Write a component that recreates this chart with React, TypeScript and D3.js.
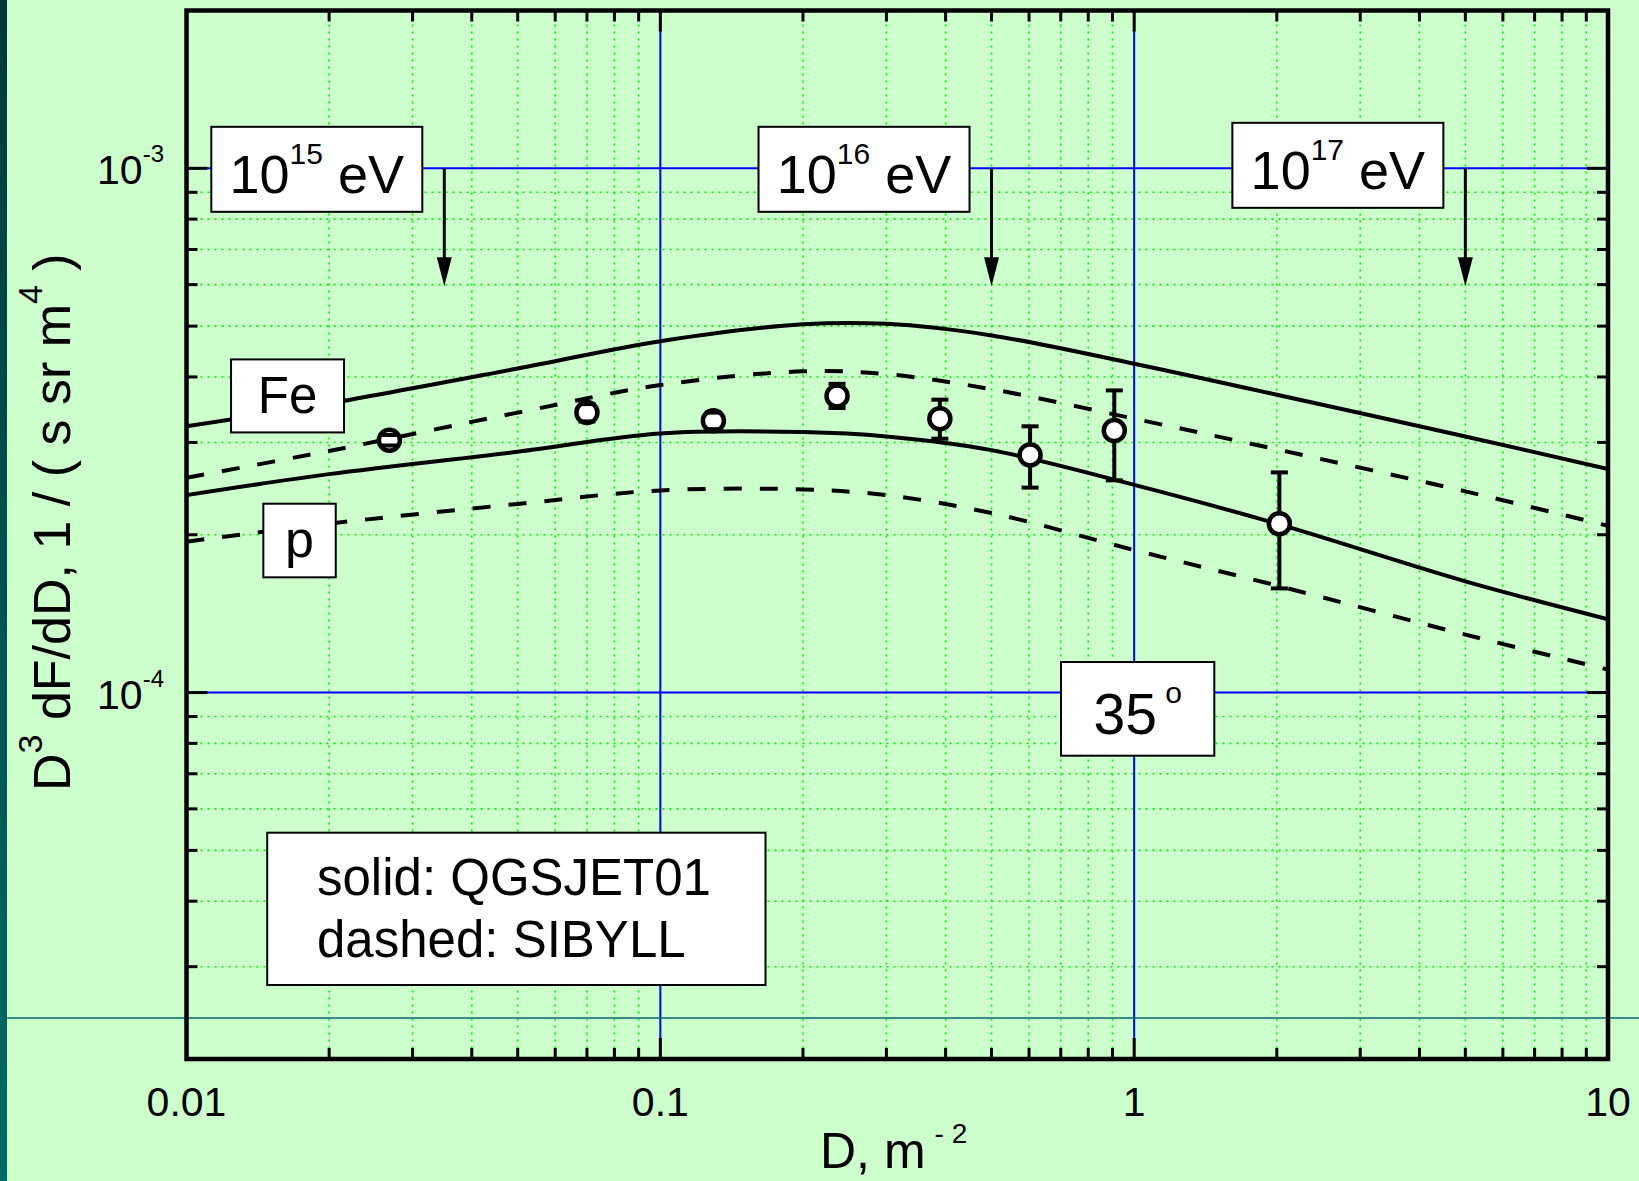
import { useMemo } from "react";
import * as d3 from "d3";

const WIDTH = 1639;
const HEIGHT = 1181;
const PLOT = { left: 186.5, right: 1608, top: 10.5, bottom: 1059 };
const FONT = "'Liberation Sans', Arial, Helvetica, sans-serif";

// model curves: D in m^-2, flux in units of 1e-4 / (s sr m^4)
const dGrid = [0.01, 0.02, 0.05, 0.1, 0.2, 0.3, 0.5, 1, 2, 5, 10];
const feQgsjet = [3.22, 3.56, 4.15, 4.68, 5.04, 5.05, 4.8, 4.24, 3.7, 3.08, 2.67];
const feSibyll = [2.57, 2.89, 3.42, 3.86, 4.1, 4.05, 3.79, 3.33, 2.91, 2.42, 2.08];
const pQgsjet = [2.38, 2.61, 2.88, 3.12, 3.14, 3.08, 2.9, 2.49, 2.1, 1.63, 1.38];
const pSibyll = [1.94, 2.1, 2.29, 2.43, 2.44, 2.38, 2.2, 1.87, 1.6, 1.29, 1.106];

// measured points (same units)
const expD = [0.0268, 0.07, 0.1294, 0.236, 0.389, 0.603, 0.908, 2.025];
const expF = [3.03, 3.42, 3.3, 3.68, 3.33, 2.84, 3.16, 2.1];
const expLo = [2.96, 3.29, 3.18, 3.49, 3.05, 2.46, 2.54, 1.58];
const expHi = [3.1, 3.55, 3.42, 3.88, 3.62, 3.22, 3.77, 2.63];

const energyExp = ["15", "16", "17"];
const energyArrowD = [0.035, 0.5, 5];

const xTickValues = [0.01, 0.1, 1, 10];
const xTickLabels = ["0.01", "0.1", "1", "10"];
const yTickExp = [-4, -3];

const UNIT = 1e-4;

const isDecade = (v: number) => Math.abs(Math.log10(v) - Math.round(Math.log10(v))) < 1e-6;

const App = () => {
  const x = useMemo(() => d3.scaleLog().domain([0.01, 10]).range([PLOT.left, PLOT.right]), []);
  const y = useMemo(() => d3.scaleLog().domain([2e-5, 2e-3]).range([PLOT.bottom, PLOT.top]), []);

  const line = d3
    .line<number>()
    .x((_, i) => x(dGrid[i]))
    .y((v) => y(v * UNIT))
    .curve(d3.curveCatmullRom.alpha(0.5));

  const curves = [
    { values: feQgsjet, dashed: false },
    { values: feSibyll, dashed: true },
    { values: pQgsjet, dashed: false },
    { values: pSibyll, dashed: true },
  ];

  const xTicks = x.ticks().filter((t) => t > 0.0100001 && t < 9.9999);
  const yTicks = y.ticks().filter((t) => t > 2.00001e-5 && t < 1.9999e-3);

  const y3 = y(1e-3);

  return (
    <svg
      width={WIDTH}
      height={HEIGHT}
      style={{ position: "absolute", left: 0, top: 0, display: "block" }}
      fontFamily={FONT}
    >
      <defs>
        <linearGradient id="strip" x1="0" y1="0" x2="0" y2="1">
          <stop offset="0" stopColor="#003a3a" />
          <stop offset="1" stopColor="#006a64" />
        </linearGradient>
        <clipPath id="plotClip">
          <rect x={PLOT.left} y={PLOT.top} width={PLOT.right - PLOT.left} height={PLOT.bottom - PLOT.top} />
        </clipPath>
      </defs>

      <rect width={WIDTH} height={HEIGHT} fill="#ccffcc" />
      <rect width={7} height={HEIGHT} fill="url(#strip)" />

      {/* minor grid */}
      <g stroke="#00ee00" strokeWidth={1.6} strokeDasharray="2 5">
        {xTicks
          .filter((t) => !isDecade(t))
          .map((t) => (
            <line key={"gx" + t} x1={x(t)} x2={x(t)} y1={PLOT.top} y2={PLOT.bottom} />
          ))}
        {yTicks
          .filter((t) => !isDecade(t))
          .map((t) => (
            <line key={"gy" + t} x1={PLOT.left} x2={PLOT.right} y1={y(t)} y2={y(t)} />
          ))}
      </g>

      {/* decade grid */}
      <g stroke="#0000ff" strokeWidth={2}>
        {xTicks.filter(isDecade).map((t) => (
          <line key={"bx" + t} x1={x(t)} x2={x(t)} y1={PLOT.top} y2={PLOT.bottom} />
        ))}
        {yTicks.filter(isDecade).map((t) => (
          <line key={"by" + t} x1={PLOT.left} x2={PLOT.right} y1={y(t)} y2={y(t)} />
        ))}
      </g>

      <line x1={0} x2={WIDTH} y1={1018} y2={1018} stroke="#006b6b" strokeWidth={1.5} />

      {/* model curves */}
      <g clipPath="url(#plotClip)" fill="none" stroke="#000" strokeWidth={4}>
        {curves.map((c, i) => (
          <path key={i} d={line(c.values) ?? undefined} strokeDasharray={c.dashed ? "18 18" : undefined} />
        ))}
      </g>

      {/* data points */}
      <g stroke="#000" strokeWidth={4}>
        {expD.map((d, i) => (
          <line key={"eb" + i} x1={x(d)} x2={x(d)} y1={y(expLo[i] * UNIT)} y2={y(expHi[i] * UNIT)} />
        ))}
        {expD.map((d, i) => (
          <circle key={"pt" + i} cx={x(d)} cy={y(expF[i] * UNIT)} r={10.5} fill="#fff" strokeWidth={4.5} />
        ))}
        {expD.map((d, i) => (
          <g key={"cap" + i}>
            <line x1={x(d) - 8.5} x2={x(d) + 8.5} y1={y(expLo[i] * UNIT)} y2={y(expLo[i] * UNIT)} />
            <line x1={x(d) - 8.5} x2={x(d) + 8.5} y1={y(expHi[i] * UNIT)} y2={y(expHi[i] * UNIT)} />
          </g>
        ))}
      </g>

      {/* energy markers */}
      {energyArrowD.map((d, i) => {
        const ax = x(d);
        const tip = y3 + 118;
        const bw = 211;
        const bh = 85;
        const bx = ax - 22 - bw;
        const cy = y3 + (i === 2 ? -3 : 1);
        return (
          <g key={"en" + i}>
            <line x1={ax} x2={ax} y1={y3} y2={tip - 20} stroke="#000" strokeWidth={3} />
            <path d={`M${ax - 7.5},${tip - 29} L${ax + 7.5},${tip - 29} L${ax},${tip} Z`} fill="#000" />
            <rect x={bx} y={cy - bh / 2} width={bw} height={bh} fill="#fff" stroke="#000" strokeWidth={2} />
            <text x={bx + bw / 2} y={cy + 23.5} textAnchor="middle" fontSize={54}>
              10
              <tspan dy={-29} fontSize={30}>
                {energyExp[i]}
              </tspan>
              <tspan dy={29}>{" eV"}</tspan>
            </text>
          </g>
        );
      })}

      {/* curve labels */}
      <g>
        <rect x={x(0.01634) - 56.5} y={y(3.68e-4) - 36.5} width={113} height={73} fill="#fff" stroke="#000" strokeWidth={2} />
        <text x={x(0.01634)} y={y(3.68e-4) + 17} textAnchor="middle" fontSize={51}>
          Fe
        </text>
        <rect x={x(0.01732) - 36.2} y={y(1.95e-4) - 36.8} width={72.4} height={73.6} fill="#fff" stroke="#000" strokeWidth={2} />
        <text x={x(0.01732)} y={y(1.95e-4) + 16} textAnchor="middle" fontSize={52}>
          p
        </text>
      </g>

      {/* zenith angle */}
      <g>
        <rect x={1061} y={662} width={153.3} height={93.7} fill="#fff" stroke="#000" strokeWidth={2} />
        <text x={1137.7} y={734} textAnchor="middle" fontSize={57}>
          35
          <tspan dy={-31} fontSize={30}>
            {" o"}
          </tspan>
        </text>
      </g>

      {/* model legend */}
      <g>
        <rect x={267.2} y={832.7} width={498.3} height={152.3} fill="#fff" stroke="#000" strokeWidth={2} />
        <text x={317} y={895} fontSize={51}>
          solid: QGSJET01
        </text>
        <text x={317} y={957.3} fontSize={51}>
          dashed: SIBYLL
        </text>
      </g>

      {/* frame and ticks */}
      <g stroke="#000" strokeWidth={3}>
        {xTicks.map((t) => {
          const len = isDecade(t) ? 21 : 11;
          return (
            <g key={"tx" + t}>
              <line x1={x(t)} x2={x(t)} y1={PLOT.bottom} y2={PLOT.bottom - len} />
              <line x1={x(t)} x2={x(t)} y1={PLOT.top} y2={PLOT.top + len} />
            </g>
          );
        })}
        {yTicks.map((t) => {
          const len = isDecade(t) ? 21 : 11;
          return (
            <g key={"ty" + t}>
              <line x1={PLOT.left} x2={PLOT.left + len} y1={y(t)} y2={y(t)} />
              <line x1={PLOT.right} x2={PLOT.right - len} y1={y(t)} y2={y(t)} />
            </g>
          );
        })}
      </g>
      <rect
        x={PLOT.left}
        y={PLOT.top}
        width={PLOT.right - PLOT.left}
        height={PLOT.bottom - PLOT.top}
        fill="none"
        stroke="#000"
        strokeWidth={4.5}
      />

      {/* tick labels */}
      {xTickValues.map((v, i) => (
        <text key={"lx" + v} x={x(v)} y={1115.5} textAnchor="middle" fontSize={41}>
          {xTickLabels[i]}
        </text>
      ))}
      {yTickExp.map((e) => (
        <text key={"ly" + e} x={164} y={y(10 ** e) + 16} textAnchor="end" fontSize={41}>
          10
          <tspan dy={-22} fontSize={24}>
            {String(e)}
          </tspan>
        </text>
      ))}

      {/* axis titles */}
      <text x={820} y={1168} fontSize={50}>
        D, m
        <tspan dx={9} dy={-25} fontSize={28}>
          {"- 2"}
        </tspan>
      </text>
      <text transform="translate(70, 791) rotate(-90)" fontSize={52}>
        D
        <tspan dy={-28} fontSize={34}>
          3
        </tspan>
        <tspan dy={28}>{" dF/dD, 1 / ( s sr m"}</tspan>
        <tspan dy={-28} fontSize={34}>
          4
        </tspan>
        <tspan dy={28}>{" )"}</tspan>
      </text>
    </svg>
  );
};

export default App;
